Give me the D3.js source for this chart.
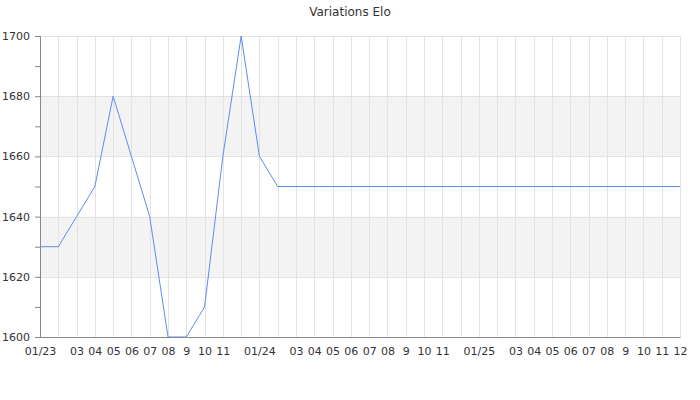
<!DOCTYPE html>
<html lang="fr">
<head>
<meta charset="utf-8">
<title>Variations Elo</title>
<script src="https://d3js.org/d3.v7.min.js"></script>
<style>
  body { margin: 0; background: #fff; }
  text { font-family: "DejaVu Sans", sans-serif; fill: #333; }
</style>
</head>
<body>
<div id="chart"></div>
<script>
// months 01/23 .. 12/25
var months = ["01/23","02","03","04","05","06","07","08","9","10","11","12",
              "01/24","02","03","04","05","06","07","08","9","10","11","12",
              "01/25","02","03","04","05","06","07","08","9","10","11","12"];
// labels hidden where the original drops them
var shown = months.map(function(m, i) { return !(m == "02" || (m == "12" && i < 35)); });
var elo = [1630,1630,1640,1650,1680,1660,1640,1600,1600,1610,1660,1700,
           1660,1650,1650,1650,1650,1650,1650,1650,1650,1650,1650,1650,
           1650,1650,1650,1650,1650,1650,1650,1650,1650,1650,1650,1650];
var yTicks = [1600, 1620, 1640, 1660, 1680, 1700];
var bands = [[1620, 1640], [1660, 1680]];

var width = 700, height = 400;
var margin = {top: 36, right: 20, bottom: 63, left: 40};

var svg = d3.select("#chart").append("svg")
  .attr("width", width)
  .attr("height", height);

var x = d3.scalePoint()
  .domain(d3.range(months.length))
  .range([margin.left, width - margin.right]);

var y = d3.scaleLinear()
  .domain([1600, 1700])
  .range([height - margin.bottom, margin.top]);

// bands
svg.append("g").selectAll("rect")
  .data(bands).enter().append("rect")
    .attr("x", margin.left)
    .attr("width", width - margin.right - margin.left)
    .attr("y", function(d) { return y(d[1]); })
    .attr("height", function(d) { return y(d[0]) - y(d[1]); })
    .attr("fill", "#f3f3f3");

// vertical grid
svg.append("g").selectAll("line")
  .data(d3.range(1, months.length)).enter().append("line")
    .attr("x1", function(d) { return Math.round(x(d)) + 0.5; })
    .attr("x2", function(d) { return Math.round(x(d)) + 0.5; })
    .attr("y1", margin.top)
    .attr("y2", height - margin.bottom)
    .attr("stroke", "#e3e3e3");

// horizontal grid
svg.append("g").selectAll("line")
  .data(yTicks.slice(1)).enter().append("line")
    .attr("x1", margin.left)
    .attr("x2", width - margin.right)
    .attr("y1", function(d) { return Math.round(y(d)) + 0.5; })
    .attr("y2", function(d) { return Math.round(y(d)) + 0.5; })
    .attr("stroke", "#e3e3e3");

// the line
var line = d3.line()
  .x(function(d, i) { return x(i); })
  .y(function(d) { return y(d); });

svg.append("path")
  .datum(elo)
  .attr("d", line)
  .attr("fill", "none")
  .attr("stroke", "#5b8def")
  .attr("stroke-width", 1);

// y axis
var yAxis = svg.append("g")
  .attr("transform", "translate(" + margin.left + ",0)")
  .call(d3.axisLeft(y).tickValues(d3.range(1600, 1701, 10)).tickSize(5)
    .tickFormat(function(d) { return d % 20 == 0 ? d : ""; }));
yAxis.selectAll("text").attr("font-size", 11).attr("font-family", "DejaVu Sans").attr("dx", "-2");

// x axis
var xAxis = svg.append("g")
  .attr("transform", "translate(0," + (height - margin.bottom) + ")")
  .call(d3.axisBottom(x).tickSize(0).tickPadding(10)
    .tickFormat(function(i) { return shown[i] ? months[i] : ""; }));
xAxis.selectAll("text").attr("font-size", 11).attr("font-family", "DejaVu Sans");

svg.selectAll(".domain, .tick line").attr("stroke", "#888");
svg.selectAll(".domain").attr("stroke", "#888");

// title
svg.append("text")
  .attr("x", width / 2)
  .attr("y", 16)
  .attr("text-anchor", "middle")
  .attr("font-size", 12)
  .text("Variations Elo");
</script>
</body>
</html>
